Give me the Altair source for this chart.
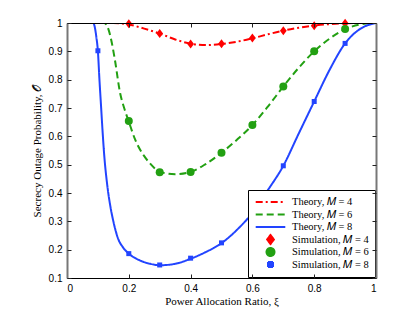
import altair as alt
import pandas as pd

# ---------------- data ----------------
series_names = ["Theory, 𝑀 = 4", "Theory, 𝑀 = 6", "Theory, 𝑀 = 8",
                "Simulation, 𝑀 = 4", "Simulation, 𝑀 = 6", "Simulation, 𝑀 = 8"]

m4_x = [0.0, 0.15, 0.2, 0.25, 0.3, 0.35, 0.4, 0.45, 0.5, 0.55, 0.6, 0.65, 0.7, 0.75, 0.8, 0.85, 0.9, 0.95, 1.0]
m4_y = [1.0, 1.0, 0.995, 0.98, 0.963, 0.942, 0.927, 0.922, 0.926, 0.934, 0.946, 0.96, 0.973, 0.983, 0.991, 0.996, 0.999, 1.0, 1.0]

m6_x = [0.0, 0.12, 0.135, 0.145, 0.155, 0.172, 0.185, 0.2, 0.22, 0.25, 0.27, 0.3, 0.35, 0.4, 0.45, 0.5,
        0.55, 0.6, 0.65, 0.7, 0.75, 0.8, 0.85, 0.9, 0.95, 1.0]
m6_y = [1.0, 1.0, 0.975, 0.93, 0.87, 0.752, 0.7, 0.652, 0.59, 0.53, 0.503, 0.475, 0.466, 0.474, 0.503, 0.542,
        0.588, 0.64, 0.705, 0.776, 0.842, 0.9, 0.945, 0.978, 0.995, 1.0]

m8_x = [0.0, 0.085, 0.09, 0.095, 0.1, 0.105, 0.11, 0.115, 0.12, 0.13, 0.14, 0.15, 0.166, 0.18, 0.2, 0.236,
        0.27, 0.3, 0.35, 0.4, 0.45, 0.5, 0.55, 0.6, 0.65, 0.7, 0.75, 0.8, 0.85, 0.9, 0.95, 1.0]
m8_y = [1.0, 1.0, 0.985, 0.95, 0.9, 0.8, 0.71, 0.62, 0.54, 0.43, 0.355, 0.3, 0.237, 0.21, 0.186, 0.162,
        0.15, 0.145, 0.15, 0.168, 0.192, 0.223, 0.27, 0.33, 0.41, 0.496, 0.61, 0.723, 0.835, 0.928, 0.98, 1.0]

sim4_x = [0.2, 0.3, 0.4, 0.5, 0.6, 0.7, 0.8, 0.9]
sim4_y = [0.997, 0.963, 0.926, 0.927, 0.947, 0.973, 0.99, 0.999]
sim6_x = [0.2, 0.3, 0.4, 0.5, 0.6, 0.7, 0.8, 0.9]
sim6_y = [0.654, 0.473, 0.474, 0.542, 0.64, 0.776, 0.9, 0.979]
sim8_x = [0.1, 0.2, 0.3, 0.4, 0.5, 0.6, 0.7, 0.8, 0.9]
sim8_y = [0.902, 0.186, 0.146, 0.17, 0.224, 0.33, 0.496, 0.723, 0.928]

x_ticks = [0, 0.2, 0.4, 0.6, 0.8, 1]
y_ticks = [0.1, 0.2, 0.3, 0.4, 0.5, 0.6, 0.7, 0.8, 0.9, 1.0]

# ---------------- tables ----------------
theory = pd.concat([
    pd.DataFrame({"x": m4_x, "y": m4_y, "s": series_names[0]}),
    pd.DataFrame({"x": m6_x, "y": m6_y, "s": series_names[1]}),
    pd.DataFrame({"x": m8_x, "y": m8_y, "s": series_names[2]}),
], ignore_index=True)
sim = pd.concat([
    pd.DataFrame({"x": sim4_x, "y": sim4_y, "s": series_names[3]}),
    pd.DataFrame({"x": sim6_x, "y": sim6_y, "s": series_names[4]}),
    pd.DataFrame({"x": sim8_x, "y": sim8_y, "s": series_names[5]}),
], ignore_index=True)

RED, GREEN, BLUE = "#ff0000", "#22a012", "#2244ff"
colors = [RED, GREEN, BLUE, RED, GREEN, BLUE]
dashes = [[7, 3, 2, 3], [7, 4], [1, 0], [1, 0], [1, 0], [1, 0]]
line_path = "M-3.7,0H3.7"
diamond = "M0,-1L0.75,0L0,1L-0.75,0Z"
shapes = [line_path, line_path, line_path, diamond, "circle", "square"]
sizes = [64, 64, 64, 81, 64, 25]

xs = alt.Scale(domain=[0, 1], nice=False, zero=False)
ys = alt.Scale(domain=[0.1, 1], nice=False, zero=False)

legend = alt.Legend(orient="bottom-right", offset=1, title=None, fillColor="white",
                    strokeColor="black", padding=6, symbolOffset=11, labelOffset=16,
                    labelFont="Liberation Serif", labelFontSize=10.5, labelColor="black",
                    rowPadding=0.5, clipHeight=12, symbolStrokeWidth=2, labelLimit=300)

color_enc = alt.Color("s:N", scale=alt.Scale(domain=series_names, range=colors), legend=legend)
dash_enc = alt.StrokeDash("s:N", scale=alt.Scale(domain=series_names, range=dashes), legend=legend)
shape_enc = alt.Shape("s:N", scale=alt.Scale(domain=series_names, range=shapes), legend=legend)
size_enc = alt.Size("s:N", scale=alt.Scale(type="ordinal", domain=series_names, range=sizes), legend=legend)

main_x = alt.X("x:Q", scale=xs, axis=alt.Axis(
    orient="bottom", values=x_ticks, format="~g", ticks=False, tickSize=0, labelPadding=5,
    domain=True, domainColor="black", domainWidth=1, zindex=1,
    title="Power Allocation Ratio, ξ", titlePadding=2))
main_y = alt.Y("y:Q", scale=ys, axis=alt.Axis(
    orient="left", values=y_ticks, format="~g", ticks=False, tickSize=0, labelPadding=5,
    domain=True, domainColor="#777777", domainWidth=2, zindex=1,
    title="Secrecy Outage Probability, 𝒪", titlePadding=6))

lines = alt.Chart(theory).mark_line(strokeWidth=2, clip=True, interpolate="monotone").encode(
    x=main_x, y=main_y, color=color_enc, strokeDash=dash_enc, detail="s:N")

points = alt.Chart(sim).mark_point(filled=True, opacity=1, strokeWidth=0).encode(
    x=alt.X("x:Q", scale=xs, axis=None), y=alt.Y("y:Q", scale=ys, axis=None),
    color=color_enc, shape=shape_enc, size=size_enc)

def ghost(xo, yo, offset, domain, ticks, dcol_x="black", dcol_y="#777777", dw_y=2):
    return alt.Chart(sim).mark_point(opacity=0).encode(
        x=alt.X("x:Q", scale=xs, axis=alt.Axis(
            orient=xo, values=x_ticks, labels=False, title=None, offset=offset,
            domain=domain, domainColor=dcol_x, domainWidth=1, ticks=ticks, tickSize=4,
            tickColor="#222222", zindex=1)),
        y=alt.Y("y:Q", scale=ys, axis=alt.Axis(
            orient=yo, values=y_ticks, labels=False, title=None, offset=offset,
            domain=domain, domainColor=dcol_y, domainWidth=dw_y, ticks=ticks, tickSize=4,
            tickColor="#222222", zindex=1)),
    )

frame_tr = ghost("top", "right", 0, True, False)
ticks_bl = ghost("bottom", "left", -4, False, True)
ticks_tr = ghost("top", "right", -4, False, True)

chart = alt.layer(lines, points, frame_tr, ticks_bl, ticks_tr).resolve_axis(
    x="independent", y="independent"
).properties(
    width=309, height=255,
    autosize=alt.AutoSizeParams(type="none"),
    padding={"left": 59, "top": 15, "right": 31, "bottom": 35},
    background="white",
).configure_view(stroke=None).configure_axis(
    grid=False, labelFont="Liberation Sans", labelFontSize=10, labelColor="black",
    titleFont="Liberation Serif", titleFontSize=11, titleFontWeight="normal", titleColor="black",
)

chart.save("out.html", embed_options={"renderer": "svg", "actions": False})
